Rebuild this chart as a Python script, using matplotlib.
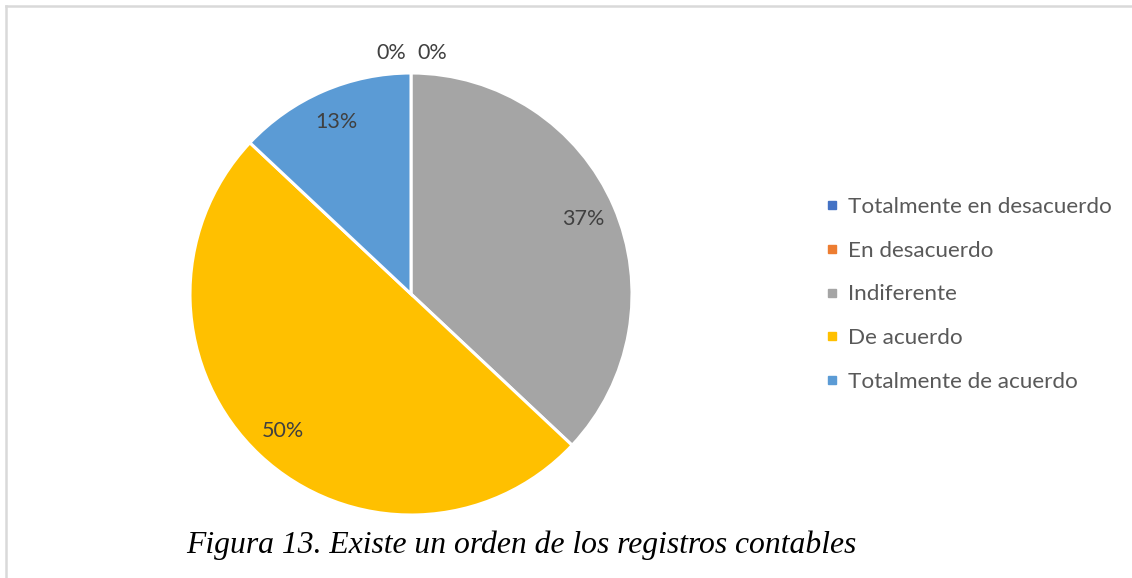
import matplotlib
matplotlib.use("Agg")
import matplotlib.pyplot as plt
from matplotlib.lines import Line2D
import numpy as np

# data
categorias = ["Totalmente en desacuerdo", "En desacuerdo", "Indiferente",
              "De acuerdo", "Totalmente de acuerdo"]
porcentajes = [0, 0, 37, 50, 13]
colores = ["#4472C4", "#ED7D31", "#A5A5A5", "#FFC000", "#5B9BD5"]
titulo = "Figura 13. Existe un orden de los registros contables"

W, H = 1132, 578
fig = plt.figure(figsize=(W / 100, H / 100), dpi=100)

# pie axes: center (411, 294), radius 221 px
cx, cy, r = 411, 294, 221
ax = fig.add_axes([(cx - r) / W, (H - cy - r) / H, 2 * r / W, 2 * r / H])

vals = [v if v > 0 else 1e-9 for v in porcentajes]
wedges, _ = ax.pie(vals, colors=colores, startangle=90, counterclock=False,
                   wedgeprops=dict(edgecolor="white", linewidth=2.2))
ax.set_xlim(-1, 1)
ax.set_ylim(-1, 1)
ax.set_aspect("equal")
ax.axis("off")

fs = 15.5
zero_pos = [(-0.09, 1.09), (0.095, 1.09)]
zi = 0
for w, v in zip(wedges, porcentajes):
    if v == 0:
        x, y = zero_pos[zi]
        zi += 1
    else:
        ang = np.deg2rad((w.theta1 + w.theta2) / 2)
        x, y = 0.85 * np.cos(ang), 0.85 * np.sin(ang)
    ax.text(x, y, f"{v}%", ha="center", va="center", fontsize=fs,
            color="#404040", family="Lato", clip_on=False)

handles = [Line2D([], [], marker="s", linestyle="none", color=c, markersize=6)
           for c in colores]
leg = fig.legend(handles, categorias, loc="center left",
                 bbox_to_anchor=(825 / W, 1 - 294.5 / H), frameon=False,
                 prop=dict(family="Lato", size=16.2), labelcolor="#595959",
                 handlelength=0.6, handletextpad=0.4, labelspacing=1.06,
                 borderpad=0, borderaxespad=0)

fig.text(521 / W, 1 - 545 / H, titulo, ha="center", va="center",
         fontsize=22.8, style="italic", family="Liberation Serif", color="black")

# light frame around the chart area (left and top edges visible)
fig.add_artist(Line2D([6 / W, 6 / W], [0, 1 - 6 / H], color="#d9d9d9", lw=1.8,
                      transform=fig.transFigure))
fig.add_artist(Line2D([6 / W, 1], [1 - 6 / H, 1 - 6 / H], color="#d9d9d9", lw=1.8,
                      transform=fig.transFigure))

fig.savefig("out.png", dpi=100)
